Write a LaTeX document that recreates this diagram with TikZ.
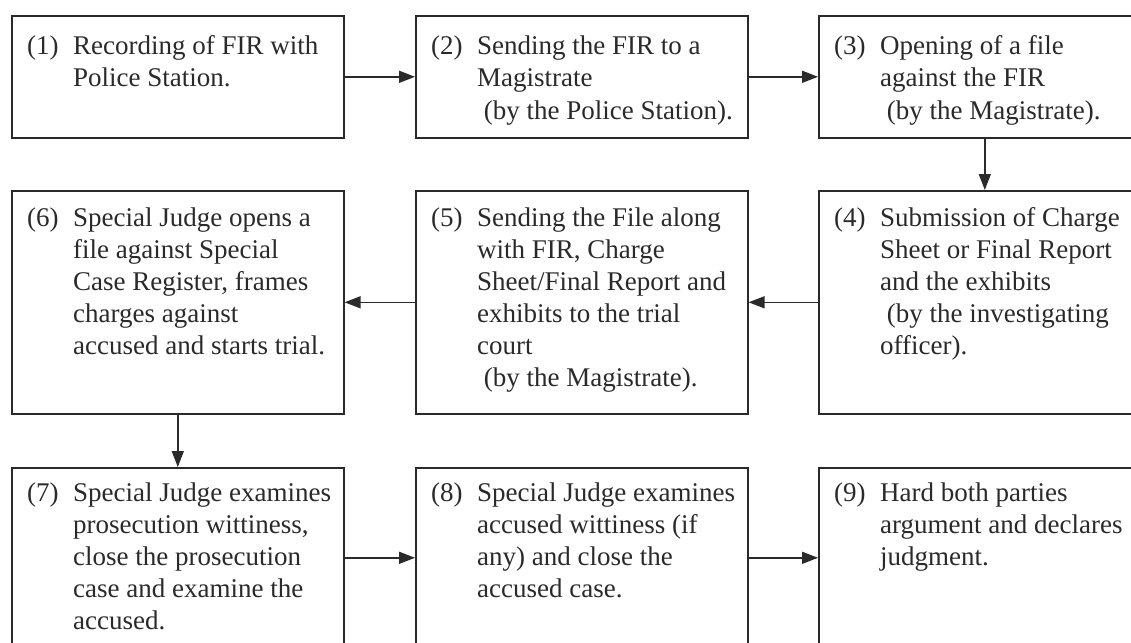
\documentclass[tikz,border=0pt]{standalone}
\usepackage{fontspec}
\setmainfont{Liberation Serif}
\usetikzlibrary{arrows.meta}
\definecolor{ink}{HTML}{2A2A2A}
\tikzset{
  box/.style={draw=ink, line width=1.6pt, rectangle, inner sep=0pt, anchor=north west, minimum width=332pt},
  rowA/.style={box, minimum height=122pt},
  rowB/.style={box, minimum height=223pt},
  rowC/.style={box, minimum height=180pt},
  txt/.style={anchor=base west, inner sep=0pt, text=ink, font=\fontsize{27}{32}\selectfont},
  arr/.style={draw=ink, line width=1.5pt, -{Triangle[length=16pt,width=12pt]}}
}
\newcommand{\stepitem}[2]{\begin{tabular}[t]{@{}p{46pt}@{}l@{}}#1 & #2\end{tabular}}
\begin{document}
\begin{tikzpicture}[x=1pt,y=-1pt]
\useasboundingbox (0,0) rectangle (1131,642);
% boxes
\node[rowA] (b1) at (11,15) {};
\node[rowA] (b2) at (415,15) {};
\node[rowA] (b3) at (818,15) {};
\node[rowB] (b6) at (11,190) {};
\node[rowB] (b5) at (415,190) {};
\node[rowB] (b4) at (818,190) {};
\node[rowC] (b7) at (11,467) {};
\node[rowC] (b8) at (415,467) {};
\node[rowC] (b9) at (818,467) {};
% texts
\node[txt] (t1) at (27,55) {\stepitem{(1)}{Recording of FIR with\\ & Police Station.}};
\node[txt] (t2) at (431,55) {\stepitem{(2)}{Sending the FIR to a\\ & Magistrate\\ & \ (by the Police Station).}};
\node[txt] (t3) at (834,55) {\stepitem{(3)}{Opening of a file\\ & against the FIR\\ & \ (by the Magistrate).}};
\node[txt] (t6) at (27,226) {\stepitem{(6)}{Special Judge opens a\\ & file against Special\\ & Case Register, frames\\ & charges against\\ & accused and starts trial.}};
\node[txt] (t5) at (431,226) {\stepitem{(5)}{Sending the File along\\ & with FIR, Charge\\ & Sheet/Final Report and\\ & exhibits to the trial\\ & court\\ & \ (by the Magistrate).}};
\node[txt] (t4) at (834,226) {\stepitem{(4)}{Submission of Charge\\ & Sheet or Final Report\\ & and the exhibits\\ & \ (by the investigating\\ & officer).}};
\node[txt] (t7) at (27,501) {\stepitem{(7)}{Special Judge examines\\ & prosecution wittiness,\\ & close the prosecution\\ & case and examine the\\ & accused.}};
\node[txt] (t8) at (431,501) {\stepitem{(8)}{Special Judge examines\\ & accused wittiness (if\\ & any) and close the\\ & accused case.}};
\node[txt] (t9) at (834,501) {\stepitem{(9)}{Hard both parties\\ & argument and declares\\ & judgment.}};
% connectors
\draw[arr] (b1.east) -- (b2.west);
\draw[arr] (b2.east) -- (b3.west);
\draw[arr] (b3.south) -- (b4.north);
\draw[arr] (b4.west) -- (b5.east);
\draw[arr] (b5.west) -- (b6.east);
\draw[arr] (b6.south) -- (b7.north);
\draw[arr] (b7.east) -- (b8.west);
\draw[arr] (b8.east) -- (b9.west);
\end{tikzpicture}
\end{document}
